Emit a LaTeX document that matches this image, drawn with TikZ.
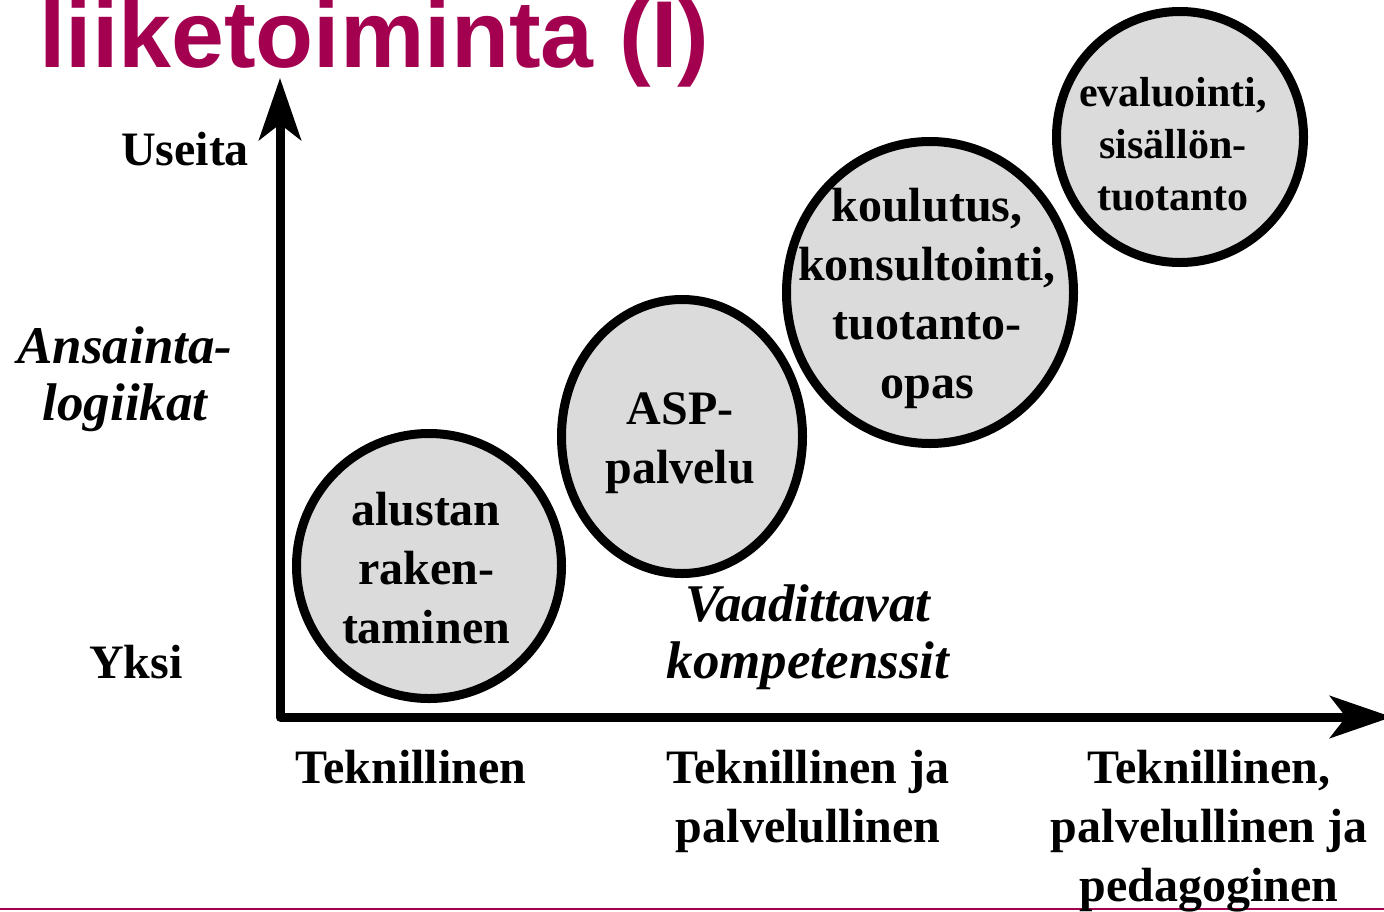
\documentclass[tikz,border=0pt]{standalone}
\usepackage{fontspec}
\setmainfont{Liberation Serif}
\newfontfamily\titlefont{Liberation Sans}
\usetikzlibrary{arrows.meta}
\usetikzlibrary{shapes.geometric}
\definecolor{title colour}{RGB}{163,0,80}
\colorlet{bubble colour}{black!14}
\tikzset{
    % Wide heads for the heavy axis lines
    >={Stealth[length=62pt, width=42pt, inset=16pt]},
%
    % Fills and lines
    bubble fill/.style={fill=bubble colour},
    axis/.style={line width=9pt, line join=round, <->},
%
    % Text in the picture
    big label/.style={font=\fontsize{48}{59}\selectfont\bfseries, inner sep=0},
    axis title/.style={font=\fontsize{53}{57}\selectfont\bfseries\itshape, inner sep=0},
    every node/.style={align=center},
}

\begin{document}
\begin{tikzpicture}[
    x=1pt, y=-1pt,
    bubble/.style={draw, ellipse, line width=9pt, bubble fill},
    title/.style={font=\fontsize{95}{100}\selectfont\titlefont\bfseries,
        text=title colour, inner sep=0},
    ]

% Page extent
\useasboundingbox (0,0) rectangle (1384,911);

% Heading and rule at the foot
\node [title, anchor=base west] (heading) at (39,67) {liiketoiminta (I)};
\draw [title colour, line width=2pt] (0,909) -- (1384,909);

% Axes
\coordinate (origin) at (280,717);
\coordinate (y end) at (280,78);
\coordinate (x end) at (1392,717);
\draw [axis] (y end) -- (origin) -- (x end);

% Vertical axis
\node [big label, anchor=base] (many) at (185,165) {Useita};
\node [big label, anchor=base] (one) at (136,678) {Yksi};
\node [axis title] (logics) at (125,379) {Ansainta-\\logiikat};

% Horizontal axis
\node [axis title] (skills) at (808,637) {Vaadittavat\\kompetenssit};
\node [big label, anchor=base] (tech) at (411,783) {Teknillinen};
\node [big label] (tech serv) at (808,801) {Teknillinen ja\\palvelullinen};
\node [big label] (tech serv ped) at (1209,831)
    {Teknillinen,\\palvelullinen ja\\pedagoginen};

% Bubbles
\foreach \n/\x/\y/\w/\h in {platform/429/566/265/265, asp/682/436.5/241/274,
        training/930/292.5/287/302, content/1180/137/247/251} {
    \node [bubble, minimum width=\w pt, minimum height=\h pt] (\n) at (\x,\y) {};}

\node [big label] (platform text) at (426,568) {alustan\\raken-\\taminen};
\node [big label] (asp text) at (680,443) {ASP-\\palvelu};
\node [big label] (training text) at (927,298)
    {koulutus,\\konsultointi,\\tuotanto-\\opas};
\node [big label, font=\fontsize{42}{52}\selectfont\bfseries] (content text)
    at (1173,144) {evaluointi,\\sisällön-\\tuotanto};

\end{tikzpicture}
\end{document}
